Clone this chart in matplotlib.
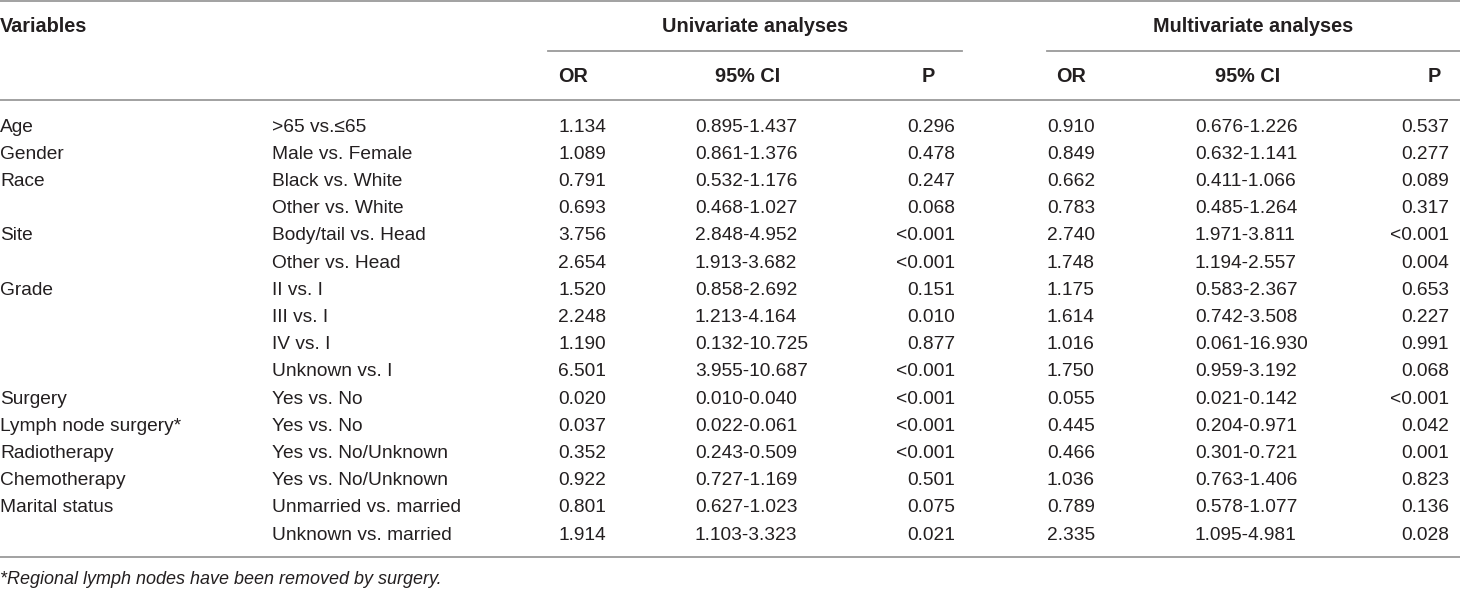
import matplotlib
matplotlib.use("Agg")
import matplotlib.pyplot as plt

plt.rcParams['font.family'] = ['Liberation Sans', 'DejaVu Sans']

variables = ["Age", "Gender", "Race", "", "Site", "", "Grade", "", "", "",
             "Surgery", "Lymph node surgery*", "Radiotherapy", "Chemotherapy",
             "Marital status", ""]
comparisons = [">65 vs.\u226465", "Male vs. Female", "Black vs. White", "Other vs. White",
               "Body/tail vs. Head", "Other vs. Head", "II vs. I", "III vs. I",
               "IV vs. I", "Unknown vs. I", "Yes vs. No", "Yes vs. No",
               "Yes vs. No/Unknown", "Yes vs. No/Unknown", "Unmarried vs. married",
               "Unknown vs. married"]
uni_or = ["1.134", "1.089", "0.791", "0.693", "3.756", "2.654", "1.520", "2.248",
          "1.190", "6.501", "0.020", "0.037", "0.352", "0.922", "0.801", "1.914"]
uni_ci = ["0.895-1.437", "0.861-1.376", "0.532-1.176", "0.468-1.027", "2.848-4.952",
          "1.913-3.682", "0.858-2.692", "1.213-4.164", "0.132-10.725", "3.955-10.687",
          "0.010-0.040", "0.022-0.061", "0.243-0.509", "0.727-1.169", "0.627-1.023",
          "1.103-3.323"]
uni_p = ["0.296", "0.478", "0.247", "0.068", "<0.001", "<0.001", "0.151", "0.010",
         "0.877", "<0.001", "<0.001", "<0.001", "<0.001", "0.501", "0.075", "0.021"]
multi_or = ["0.910", "0.849", "0.662", "0.783", "2.740", "1.748", "1.175", "1.614",
            "1.016", "1.750", "0.055", "0.445", "0.466", "1.036", "0.789", "2.335"]
multi_ci = ["0.676-1.226", "0.632-1.141", "0.411-1.066", "0.485-1.264", "1.971-3.811",
            "1.194-2.557", "0.583-2.367", "0.742-3.508", "0.061-16.930", "0.959-3.192",
            "0.021-0.142", "0.204-0.971", "0.301-0.721", "0.763-1.406", "0.578-1.077",
            "1.095-4.981"]
multi_p = ["0.537", "0.277", "0.089", "0.317", "<0.001", "0.004", "0.653", "0.227",
           "0.991", "0.068", "<0.001", "0.042", "0.001", "0.823", "0.136", "0.028"]
footnote = "*Regional lymph nodes have been removed by surgery."

W, H = 1460, 592
fig = plt.figure(figsize=(W / 100, H / 100), dpi=100)
ax = fig.add_axes([0, 0, 1, 1])
ax.set_xlim(0, W)
ax.set_ylim(H, 0)
ax.axis('off')

fs = 13.8
fs_b = 14.3
txt = '#231f20'
line_col = '#9a9a9a'
lw = 1.3

# rules
ax.plot([0, W], [1, 1], color=line_col, lw=lw)
ax.plot([548, 962], [51, 51], color=line_col, lw=lw)
ax.plot([1047, W], [51, 51], color=line_col, lw=lw)
ax.plot([0, W], [100, 100], color=line_col, lw=lw)
ax.plot([0, W], [557, 557], color=line_col, lw=lw)

# headers
ax.text(0, 27, "Variables", fontsize=fs_b, fontweight='bold', color=txt, va='center')
ax.text(755, 27, "Univariate analyses", fontsize=fs_b, fontweight='bold', color=txt,
        va='center', ha='center')
ax.text(1253, 27, "Multivariate analyses", fontsize=fs_b, fontweight='bold', color=txt,
        va='center', ha='center')
sub_heads = [("OR", 573), ("95% CI", 748), ("P", 928),
             ("OR", 1071), ("95% CI", 1248), ("P", 1434)]
for label, x in sub_heads:
    ax.text(x, 77, label, fontsize=fs_b, fontweight='bold', color=txt, va='center', ha='center')

# body rows: (values, x, alignment)
columns = [(variables, 0, 'left'), (comparisons, 272, 'left'),
           (uni_or, 558, 'left'), (uni_ci, 695, 'left'), (uni_p, 955, 'right'),
           (multi_or, 1047, 'left'), (multi_ci, 1195, 'left'), (multi_p, 1449, 'right')]
y0, dy = 127, 27.2
for i in range(len(comparisons)):
    y = y0 + i * dy
    for vals, x, ha in columns:
        ax.text(x, y, vals[i], fontsize=fs, color=txt, va='center', ha=ha)

ax.text(0, 580, footnote, fontsize=13, style='italic', color=txt, va='center')

fig.savefig("out.png", dpi=100)
